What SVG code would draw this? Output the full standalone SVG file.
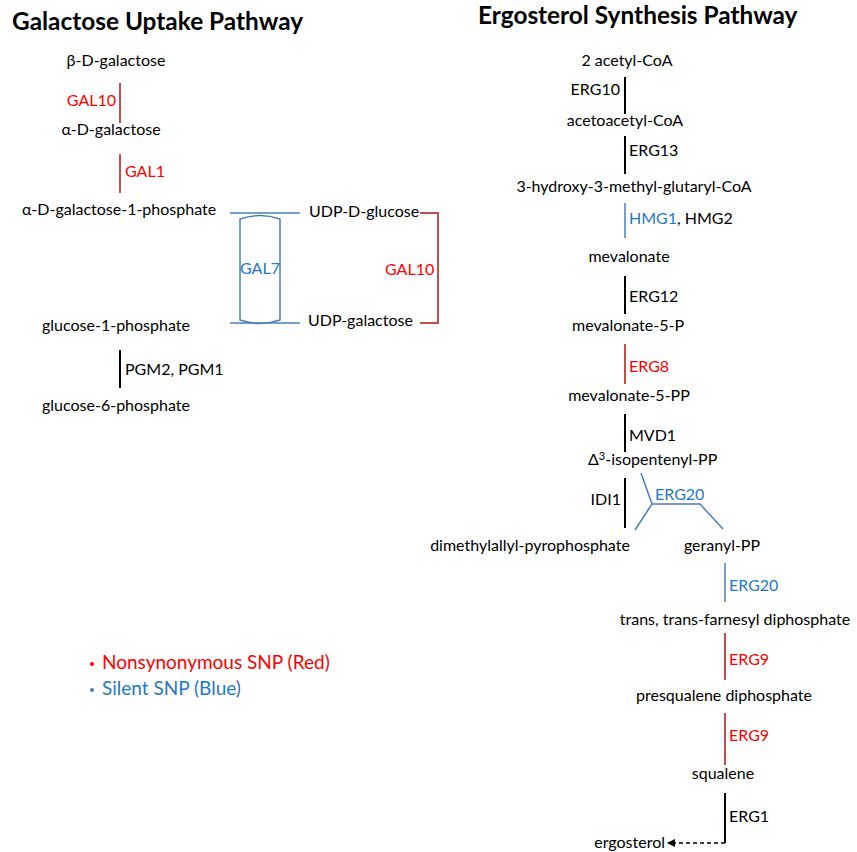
<svg xmlns="http://www.w3.org/2000/svg" width="857" height="852" viewBox="0 0 857 852">
<defs>
<style>
text{font-family:Lato,"Open Sans","Liberation Sans",sans-serif;font-size:16px;fill:#000}
.t{font-weight:bold;font-size:24.4px}
.r{fill:#ff0000}
.b{fill:#1f78c8}
.m{text-anchor:middle}
.e{text-anchor:end}
.lk{stroke:#000;stroke-width:2;fill:none}
.lr{stroke:#c0504d;stroke-width:2;fill:none}
.lb{stroke:#4a7ebb;stroke-width:1.5;fill:none}
.lg{font-size:19px}
</style>
<marker id="ah" markerWidth="8" markerHeight="8" refX="7" refY="4" orient="auto" markerUnits="userSpaceOnUse">
<path d="M0,0 L8,4 L0,8 Z" fill="#000"/>
</marker>
</defs>
<rect width="857" height="852" fill="#fff"/>
<text class="t" x="12" y="30">Galactose Uptake Pathway</text>
<text class="t" x="478" y="24">Ergosterol Synthesis Pathway</text>

<g id="connectors">
<line class="lr" x1="120" y1="83" x2="120" y2="123"/>
<line class="lr" x1="120" y1="154" x2="120" y2="193"/>
<line class="lb" x1="230" y1="213" x2="300" y2="213"/>
<line class="lb" x1="230" y1="323" x2="300" y2="323"/>
<path class="lb" d="M240,219 Q260,212 280,219 L280,320 Q260,327 240,320 Z"/>
<path class="lr" d="M420,213 L438,213 L438,323 L420,323" stroke-width="1.5"/>
<line class="lk" x1="120" y1="350" x2="120" y2="388" stroke-width="1.5"/>
<line class="lk" x1="625" y1="77" x2="625" y2="114"/>
<line class="lk" x1="625" y1="136" x2="625" y2="174"/>
<line class="lb" x1="625" y1="203" x2="625" y2="238" stroke-width="2"/>
<line class="lk" x1="625" y1="276" x2="625" y2="314"/>
<line class="lr" x1="625" y1="344" x2="625" y2="384"/>
<line class="lk" x1="625" y1="414" x2="625" y2="452"/>
<line class="lk" x1="625" y1="478" x2="625" y2="528"/>
<path class="lb" d="M641,473 L652,504 L635,530 M652,504 L700,504 L723,529"/>
<line class="lb" x1="725" y1="563" x2="725" y2="602" stroke-width="2"/>
<line class="lr" x1="725" y1="633" x2="725" y2="680"/>
<line class="lr" x1="725" y1="713" x2="725" y2="765"/>
<line class="lk" x1="725" y1="793" x2="725" y2="843"/>
<line x1="725" y1="843" x2="668" y2="843" stroke="#000" stroke-width="1.5" stroke-dasharray="4,3" marker-end="url(#ah)"/>
</g>

<g id="bgal"><text class="m" x="116" y="66">β-D-galactose</text></g>
<g id="gal10a"><text class="r e" x="116" y="106">GAL10</text></g>
<g id="agal"><text class="m" x="111" y="135">α-D-galactose</text></g>
<g id="gal1"><text class="r" x="125" y="177">GAL1</text></g>
<g id="agal1p"><text x="22" y="215">α-D-galactose-1-phosphate</text></g>
<g id="udpglc"><text x="309" y="217">UDP-D-glucose</text></g>
<g id="gal7"><text class="b m" x="260" y="274">GAL7</text></g>
<g id="gal10b"><text class="r" x="385" y="275">GAL10</text></g>
<g id="glc1p"><text x="42" y="331">glucose-1-phosphate</text></g>
<g id="udpgal"><text x="308" y="326">UDP-galactose</text></g>
<g id="pgm"><text x="125" y="375">PGM2, PGM1</text></g>
<g id="glc6p"><text x="42" y="411">glucose-6-phosphate</text></g>

<g id="legend">
<circle cx="92" cy="664" r="2" fill="#ff0000"/>
<text class="lg r" x="102" y="669">Nonsynonymous SNP (Red)</text>
<circle cx="92" cy="690" r="2" fill="#4a7ebb"/>
<text class="lg b" x="102" y="695">Silent SNP (Blue)</text>
</g>

<g id="acoa"><text class="m" x="627" y="66">2 acetyl-CoA</text></g>
<g id="erg10"><text class="e" x="620" y="95">ERG10</text></g>
<g id="aacoa"><text class="m" x="625" y="126">acetoacetyl-CoA</text></g>
<g id="erg13"><text x="629" y="156">ERG13</text></g>
<g id="hmgcoa"><text class="m" x="634" y="192">3-hydroxy-3-methyl-glutaryl-CoA</text></g>
<g id="hmg"><text x="629" y="224"><tspan class="b">HMG1</tspan>, HMG2</text></g>
<g id="mev"><text class="m" x="629" y="262">mevalonate</text></g>
<g id="erg12"><text x="629" y="302">ERG12</text></g>
<g id="mev5p"><text class="m" x="628" y="331">mevalonate-5-P</text></g>
<g id="erg8"><text class="r" x="629" y="372">ERG8</text></g>
<g id="mev5pp"><text class="m" x="629" y="401">mevalonate-5-PP</text></g>
<g id="mvd1"><text x="629" y="441">MVD1</text></g>
<g id="ipp"><text x="588" y="465">Δ<tspan font-size="11" dy="-5">3</tspan><tspan dy="5">-isopentenyl-PP</tspan></text></g>
<g id="idi1"><text class="e" x="621" y="505">IDI1</text></g>
<g id="erg20a"><text class="b" x="655" y="500">ERG20</text></g>
<g id="dmapp"><text class="m" x="530" y="551">dimethylallyl-pyrophosphate</text></g>
<g id="gpp"><text class="m" x="722" y="551">geranyl-PP</text></g>
<g id="erg20b"><text class="b" x="729" y="591">ERG20</text></g>
<g id="fpp"><text class="m" x="735" y="625">trans, trans-farnesyl diphosphate</text></g>
<g id="erg9a"><text class="r" x="729" y="665">ERG9</text></g>
<g id="psq"><text class="m" x="724" y="701">presqualene diphosphate</text></g>
<g id="erg9b"><text class="r" x="729" y="741">ERG9</text></g>
<g id="sq"><text class="m" x="723" y="779">squalene</text></g>
<g id="erg1"><text x="729" y="822">ERG1</text></g>
<g id="erg"><text class="e" x="665" y="848">ergosterol</text></g>
</svg>
